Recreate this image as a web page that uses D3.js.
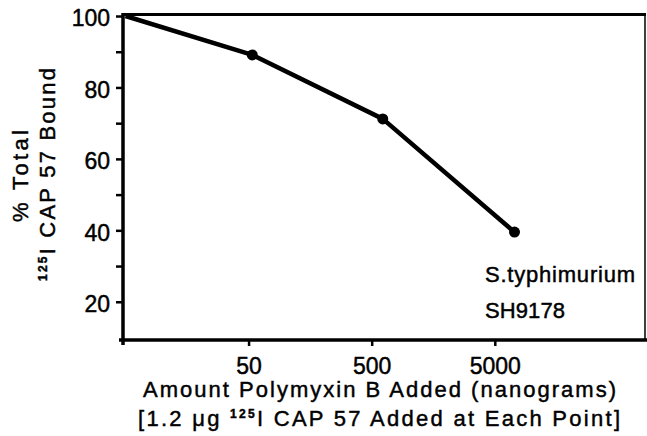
<!DOCTYPE html>
<html>
<head>
<meta charset="utf-8">
<script src="https://cdn.jsdelivr.net/npm/d3@7"></script>
<style>
  body { margin: 0; background: #fff; }
  svg { display: block; font-family: "Liberation Sans", Arial, sans-serif; }
  svg text { fill: #000; stroke: #000; stroke-width: 0.45px; }
</style>
</head>
<body>
<script>
// Data
const doseLabels = ["50", "500", "5000"];          // x tick labels (ng Polymyxin B)
const doseTickPos = [1, 2, 3];                      // tick slots on the log-dose axis
const pointPos = [0, 1.03, 2.09, 3.16];             // where each point sits on that axis
const boundPct = [100, 89.1, 71.2, 39.5];           // % total 125I CAP 57 bound
const yMajor = [20, 40, 60, 80, 100];
const yMinor = [30, 50, 70, 90];

const width = 647;
const height = 436;
const plotLeft = 123, plotRight = 645, plotTop = 16, plotBottom = 340;

const x = d3.scaleLinear().domain([-0.02, 4.22]).range([plotLeft, plotRight]);
const y = d3.scaleLinear().domain([9.3, 100]).range([plotBottom, plotTop]);

const svg = d3.select("body").append("svg")
  .attr("width", width)
  .attr("height", height)
  .attr("viewBox", [0, 0, width, height]);

// Frame: thin right edge, heavy top edge
svg.append("line")
  .attr("x1", plotRight).attr("x2", plotRight)
  .attr("y1", 14).attr("y2", plotBottom)
  .attr("stroke", "#000").attr("stroke-width", 1.5);
svg.append("line")
  .attr("x1", plotLeft).attr("x2", plotRight + 1)
  .attr("y1", 14.5).attr("y2", 14.5)
  .attr("stroke", "#000").attr("stroke-width", 3);

// Y axis
const yAxis = svg.append("g")
  .attr("transform", `translate(${plotLeft},0)`)
  .call(d3.axisLeft(y).tickValues(yMajor).tickSize(7).tickPadding(6).tickSizeOuter(0));
yAxis.select(".domain").remove();
yAxis.selectAll(".tick line").attr("stroke", "#000").attr("stroke-width", 2.5);
yAxis.selectAll(".tick text")
  .attr("dy", "0.42em")
  .style("font-size", "23px");

svg.append("g")
  .attr("transform", `translate(${plotLeft},0)`)
  .call(d3.axisLeft(y).tickValues(yMinor).tickSize(7).tickFormat("").tickSizeOuter(0))
  .call(g => g.select(".domain").remove())
  .selectAll(".tick line").attr("stroke", "#000").attr("stroke-width", 2.5);

svg.append("line")
  .attr("x1", plotLeft).attr("x2", plotLeft)
  .attr("y1", 13).attr("y2", plotBottom + 5)
  .attr("stroke", "#000").attr("stroke-width", 3.5);

// X axis
const xAxis = svg.append("g")
  .attr("transform", `translate(0,${plotBottom})`)
  .call(d3.axisBottom(x).tickValues(doseTickPos)
    .tickFormat((d, i) => doseLabels[i])
    .tickSize(6).tickPadding(12).tickSizeOuter(0));
xAxis.select(".domain").remove();
xAxis.selectAll(".tick line").attr("stroke", "#000").attr("stroke-width", 2.5);
xAxis.selectAll(".tick text")
  .style("font-size", "23px");

svg.append("line")
  .attr("x1", plotLeft - 4).attr("x2", width)
  .attr("y1", plotBottom).attr("y2", plotBottom)
  .attr("stroke", "#000").attr("stroke-width", 3.5);

// Data line and points
const pts = pointPos.map((p, i) => [p, boundPct[i]]);
svg.append("path")
  .attr("fill", "none")
  .attr("stroke", "#000")
  .attr("stroke-width", 4.5)
  .attr("stroke-linejoin", "round")
  .attr("d", d3.line().x(d => x(d[0])).y(d => y(d[1]))(pts));

svg.append("g")
  .selectAll("circle")
  .data(pts.slice(1))
  .join("circle")
  .attr("cx", d => x(d[0]))
  .attr("cy", d => y(d[1]))
  .attr("r", 5.5)
  .attr("fill", "#000");

// Strain label
svg.append("text")
  .attr("x", 485).attr("y", 282)
  .attr("textLength", 150).attr("lengthAdjust", "spacing")
  .style("font-size", "22px")
  .text("S.typhimurium");
svg.append("text")
  .attr("x", 485).attr("y", 318)
  .attr("textLength", 80).attr("lengthAdjust", "spacing")
  .style("font-size", "22px")
  .text("SH9178");

// X title
svg.append("text")
  .attr("x", 143).attr("y", 397)
  .attr("textLength", 473).attr("lengthAdjust", "spacing")
  .style("font-size", "22px")
  .text("Amount Polymyxin B Added (nanograms)");

const xt2 = svg.append("text")
  .attr("x", 138).attr("y", 426)
  .attr("textLength", 482).attr("lengthAdjust", "spacing")
  .style("font-size", "22px");
xt2.append("tspan").text("[1.2 μg ");
xt2.append("tspan").attr("dy", -8).style("font-size", "12px").style("font-weight", "bold").text("125");
xt2.append("tspan").attr("dy", 8).text("I CAP 57 Added at Each Point]");

// Y title (two rotated lines)
const yt = svg.append("g").attr("transform", "rotate(-90)");
yt.append("text")
  .attr("x", -222).attr("y", 28)
  .attr("textLength", 92).attr("lengthAdjust", "spacing")
  .style("font-size", "22px")
  .text("% Total");

const yt2 = yt.append("text")
  .attr("x", -281).attr("y", 55)
  .attr("textLength", 213).attr("lengthAdjust", "spacing")
  .style("font-size", "22px");
yt2.append("tspan").attr("dy", -8).style("font-size", "12px").style("font-weight", "bold").text("125");
yt2.append("tspan").attr("dy", 8).text("I CAP 57 Bound");
</script>
</body>
</html>
